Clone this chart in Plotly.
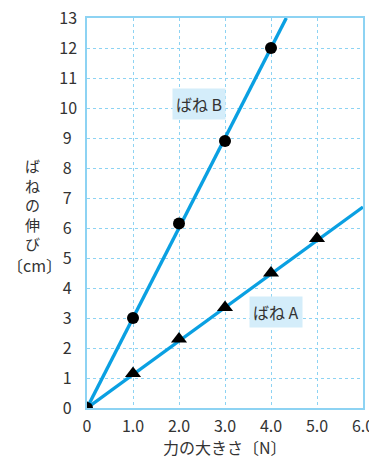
import plotly.graph_objects as go

# data
force_A = [0, 1.0, 2.0, 3.0, 4.0, 5.0]
stretch_A = [0, 1.15, 2.3, 3.35, 4.5, 5.65]
force_B = [0, 1.0, 2.0, 3.0, 4.0]
stretch_B = [0, 3.0, 6.15, 8.9, 12.0]
lineA_x = [0, 6.0]
lineA_y = [0, 6.7]
lineB_x = [0, 4.333]
lineB_y = [0, 13.0]
x_ticks = [0, 1, 2, 3, 4, 5, 6]
x_tick_labels = ["0", "1.0", "2.0", "3.0", "4.0", "5.0", "6.0"]
y_ticks = list(range(0, 14))
# labels are centred under each other in the original: pad single digits
y_tick_labels = [str(v) if v >= 10 else str(v) + "\u2004" for v in y_ticks]

LINE = "#0aa0e2"
GRID = "#8dd3f3"
FONT = "Noto Sans CJK JP"
TXT = "#333333"

fig = go.Figure()
fig.add_trace(go.Scatter(x=lineA_x, y=lineA_y, mode="lines",
                         line=dict(color=LINE, width=3.4), hoverinfo="skip"))
fig.add_trace(go.Scatter(x=lineB_x, y=lineB_y, mode="lines",
                         line=dict(color=LINE, width=3.4), hoverinfo="skip"))
fig.add_trace(go.Scatter(x=force_A, y=stretch_A, mode="markers",
                         marker=dict(symbol="triangle-up", size=14, color="black")))
fig.add_trace(go.Scatter(x=force_B, y=stretch_B, mode="markers",
                         marker=dict(symbol="circle", size=12, color="black")))

fig.add_annotation(x=2.43, y=10.15, text="ばね B", showarrow=False,
                   bgcolor="#d4edfa", font=dict(family=FONT, size=16, color=TXT),
                   borderpad=3)
fig.add_annotation(x=4.1, y=3.2, text="ばね A", showarrow=False,
                   bgcolor="#d4edfa", font=dict(family=FONT, size=16, color=TXT),
                   borderpad=3)

# y-axis title: vertical column centred at page (33, 205), "〔cm〕" at (33, 265)
fig.add_annotation(xref="paper", yref="paper", x=-0.196, y=0.521,
                   xanchor="center", yanchor="middle",
                   text="ば<br>ね<br>の<br>伸<br>び", showarrow=False,
                   font=dict(family=FONT, size=15, color=TXT), align="center")
fig.add_annotation(xref="paper", yref="paper", x=-0.19, y=0.367,
                   xanchor="center", yanchor="middle",
                   text="〔cm〕", showarrow=False,
                   font=dict(family=FONT, size=16, color=TXT))
fig.add_annotation(xref="paper", yref="paper", x=0.5, y=-0.1,
                   xanchor="center", yanchor="middle",
                   text="力の大きさ〔N〕", showarrow=False,
                   font=dict(family=FONT, size=16, color=TXT))

# page body has an 8px margin, so the figure is sized to fit the window
fig.update_layout(
    width=369, height=450,
    margin=dict(l=79, r=14, t=10, b=50),
    paper_bgcolor="white", plot_bgcolor="white",
    showlegend=False,
    font=dict(family=FONT, color=TXT, size=16),
)
fig.update_xaxes(range=[0, 6], tickvals=x_ticks, ticktext=x_tick_labels,
                 showgrid=True, gridcolor=GRID, griddash="dot", gridwidth=1.3,
                 showline=True, linecolor=GRID, linewidth=1.5, mirror=True,
                 zeroline=False, ticks="outside", ticklen=3, tickcolor="white",
                 automargin=False, ticklabeloverflow="allow",
                 tickfont=dict(family=FONT, size=16, color=TXT))
fig.update_yaxes(range=[0, 13], tickvals=y_ticks, ticktext=y_tick_labels,
                 showgrid=True, gridcolor=GRID, griddash="dot", gridwidth=1.3,
                 showline=True, linecolor=GRID, linewidth=1.5, mirror=True,
                 zeroline=False, ticks="outside", ticklen=5, tickcolor="white",
                 automargin=False, ticklabeloverflow="allow",
                 tickfont=dict(family=FONT, size=16, color=TXT))

fig.write_html("out.html")
